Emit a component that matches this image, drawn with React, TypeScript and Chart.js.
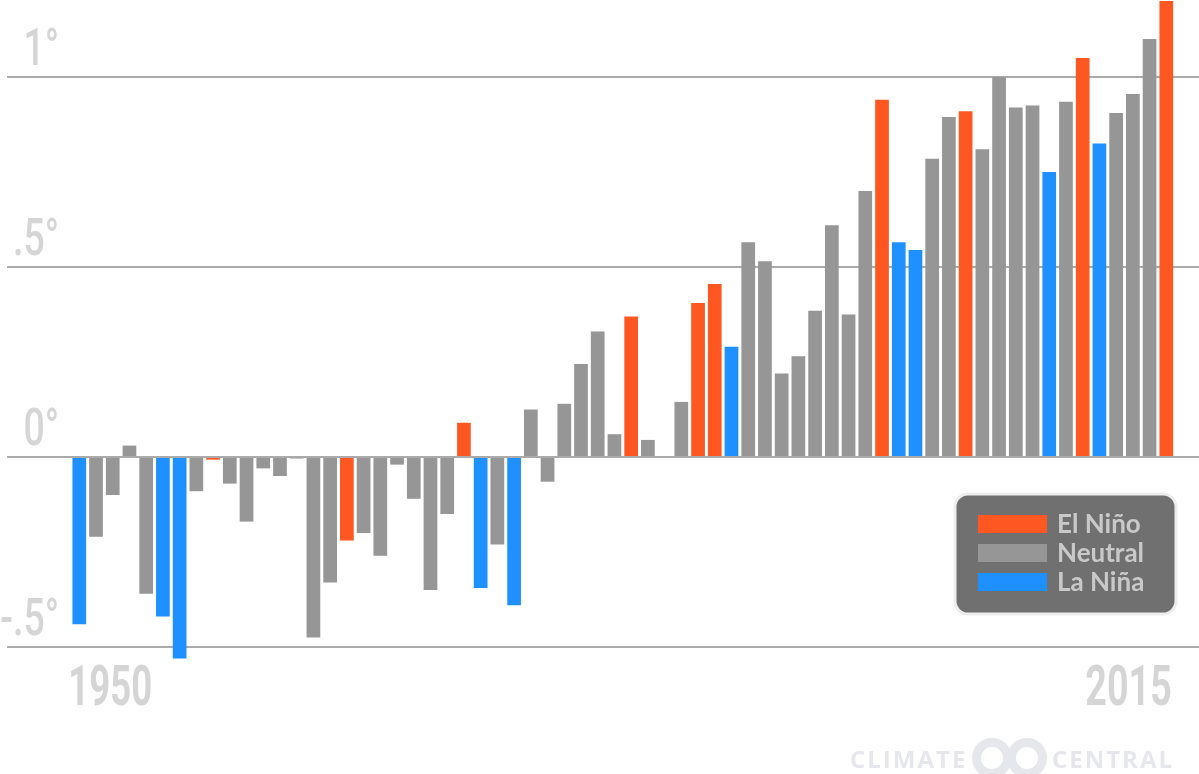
import React, { useEffect, useRef } from 'react';
import { Chart, registerables } from 'chart.js';

Chart.register(...registerables);

// ---- Data ----
const years = [
  1950, 1951, 1952, 1953, 1954, 1955, 1956, 1957, 1958, 1959,
  1960, 1961, 1962, 1963, 1964, 1965, 1966, 1967, 1968, 1969,
  1970, 1971, 1972, 1973, 1974, 1975, 1976, 1977, 1978, 1979,
  1980, 1981, 1982, 1983, 1984, 1985, 1986, 1987, 1988, 1989,
  1990, 1991, 1992, 1993, 1994, 1995, 1996, 1997, 1998, 1999,
  2000, 2001, 2002, 2003, 2004, 2005, 2006, 2007, 2008, 2009,
  2010, 2011, 2012, 2013, 2014, 2015,
];

const anomalies = [
  -0.44, -0.21, -0.10, 0.03, -0.36, -0.42, -0.53, -0.09, -0.007, -0.07,
  -0.17, -0.03, -0.05, -0.004, -0.475, -0.33, -0.22, -0.20, -0.26, -0.02,
  -0.11, -0.35, -0.15, 0.09, -0.345, -0.23, -0.39, 0.125, -0.065, 0.14,
  0.245, 0.33, 0.06, 0.37, 0.045, 0.0, 0.145, 0.405, 0.455, 0.29,
  0.565, 0.515, 0.22, 0.265, 0.385, 0.61, 0.375, 0.70, 0.94, 0.565,
  0.545, 0.785, 0.895, 0.91, 0.81, 1.0, 0.92, 0.925, 0.75, 0.935,
  1.05, 0.825, 0.905, 0.955, 1.10, 1.20,
];

// E = El Niño, N = Neutral, L = La Niña
const phases = [
  'L', 'N', 'N', 'N', 'N', 'L', 'L', 'N', 'E', 'N',
  'N', 'N', 'N', 'N', 'N', 'N', 'E', 'N', 'N', 'N',
  'N', 'N', 'N', 'E', 'L', 'N', 'L', 'N', 'N', 'N',
  'N', 'N', 'N', 'E', 'N', 'N', 'N', 'E', 'E', 'L',
  'N', 'N', 'N', 'N', 'N', 'N', 'N', 'N', 'E', 'L',
  'L', 'N', 'N', 'E', 'N', 'N', 'N', 'N', 'L', 'N',
  'E', 'L', 'N', 'N', 'N', 'E',
];

const yTickValues = [-0.5, 0, 0.5, 1];
const yTickLabels = ['-.5°', '0°', '.5°', '1°'];
const xEdgeLabels = ['1950', '2015'];
const legendKeys = ['E', 'N', 'L'];
const legendLabels = ['El Niño', 'Neutral', 'La Niña'];
const brandWords = ['CLIMATE', 'CENTRAL'];

const phaseColors: Record<string, string> = {
  E: '#ff5722',
  N: '#969696',
  L: '#1e90ff',
};

const LABEL_GREY = '#d5d5d5';

const overlayPlugin = {
  id: 'overlay',
  afterDraw(chart: any) {
    const ctx: CanvasRenderingContext2D = chart.ctx;
    const xs = chart.scales.x;
    const ys = chart.scales.y;
    ctx.save();

    // y tick labels (condensed)
    ctx.fillStyle = LABEL_GREY;
    ctx.textBaseline = 'alphabetic';
    ctx.textAlign = 'right';
    ctx.font = '500 52px Roboto';
    yTickValues.forEach((v, i) => {
      const py = ys.getPixelForValue(v) - 12;
      ctx.save();
      ctx.translate(59, py);
      ctx.scale(0.72, 1);
      ctx.fillText(yTickLabels[i], 0, 0);
      ctx.restore();
    });

    // x edge labels
    ctx.font = '700 55px Roboto';
    const baseY = 705;
    const leftX = xs.getPixelForValue(years[0]) - 11;
    ctx.save();
    ctx.translate(leftX, baseY);
    ctx.scale(0.665, 1);
    ctx.textAlign = 'left';
    ctx.fillText(xEdgeLabels[0], 0, 0);
    ctx.restore();
    const rightX = xs.getPixelForValue(years[years.length - 1]) + 5.5;
    ctx.save();
    ctx.translate(rightX, baseY);
    ctx.scale(0.685, 1);
    ctx.textAlign = 'right';
    ctx.fillText(xEdgeLabels[1], 0, 0);
    ctx.restore();

    // legend box
    const lx = 955, ly = 494, lw = 221, lh = 120;
    ctx.beginPath();
    (ctx as any).roundRect(lx, ly, lw, lh, 13);
    ctx.fillStyle = '#707070';
    ctx.fill();
    ctx.lineWidth = 3;
    ctx.strokeStyle = '#ededed';
    ctx.stroke();
    ctx.font = '700 26px Lato';
    ctx.textAlign = 'left';
    legendKeys.forEach((k, i) => {
      const ty = 515 + i * 29;
      ctx.fillStyle = phaseColors[k];
      ctx.fillRect(978, ty, 69, 18);
      ctx.fillStyle = '#c9c9c9';
      ctx.fillText(legendLabels[i], 1057, ty + 18);
    });

    // brand watermark
    const brand = '#e6e6ed';
    ctx.fillStyle = brand;
    ctx.font = '700 24px "Open Sans"';
    (ctx as any).letterSpacing = '2px';
    ctx.textAlign = 'left';
    ctx.fillText(brandWords[0], 850, 768);
    ctx.textAlign = 'right';
    ctx.fillText(brandWords[1], 1174, 768);
    (ctx as any).letterSpacing = '0px';
    ctx.strokeStyle = brand;
    ctx.lineWidth = 9;
    [992, 1027].forEach((cx) => {
      ctx.beginPath();
      ctx.arc(cx, 758, 15.5, 0, Math.PI * 2);
      ctx.stroke();
    });

    ctx.restore();
  },
};

export default function App() {
  const canvasRef = useRef<HTMLCanvasElement | null>(null);

  useEffect(() => {
    if (!canvasRef.current) return;
    const chart = new Chart(canvasRef.current, {
      type: 'bar',
      data: {
        datasets: [
          {
            label: 'Temperature anomaly',
            data: years.map((yr, i) => ({ x: yr, y: anomalies[i] })),
            backgroundColor: phases.map((p) => phaseColors[p]),
            borderWidth: 0,
            barPercentage: 0.82,
            categoryPercentage: 1,
          },
        ],
      },
      options: {
        responsive: false,
        animation: false,
        devicePixelRatio: 1,
        layout: { padding: { left: 7, right: 0, top: 1, bottom: 89 } },
        plugins: {
          legend: { display: false },
          tooltip: { enabled: false },
          title: { display: false },
        },
        scales: {
          x: {
            type: 'linear',
            display: false,
            offset: false,
            min: 1945.677,
            max: 2016.955,
          },
          y: {
            type: 'linear',
            min: -0.6,
            max: 1.2,
            afterBuildTicks: (scale: any) => {
              scale.ticks = yTickValues.map((v) => ({ value: v }));
            },
            ticks: { display: false },
            border: { display: false },
            grid: {
              color: '#aaaaaa',
              lineWidth: 2,
              drawTicks: false,
            },
          },
        },
      },
      plugins: [overlayPlugin],
    } as any);
    return () => chart.destroy();
  }, []);

  return (
    <div style={{ position: 'fixed', left: 0, top: 0, width: 1199, height: 774, background: '#ffffff' }}>
      <canvas ref={canvasRef} width={1199} height={774} style={{ display: 'block' }} />
    </div>
  );
}
